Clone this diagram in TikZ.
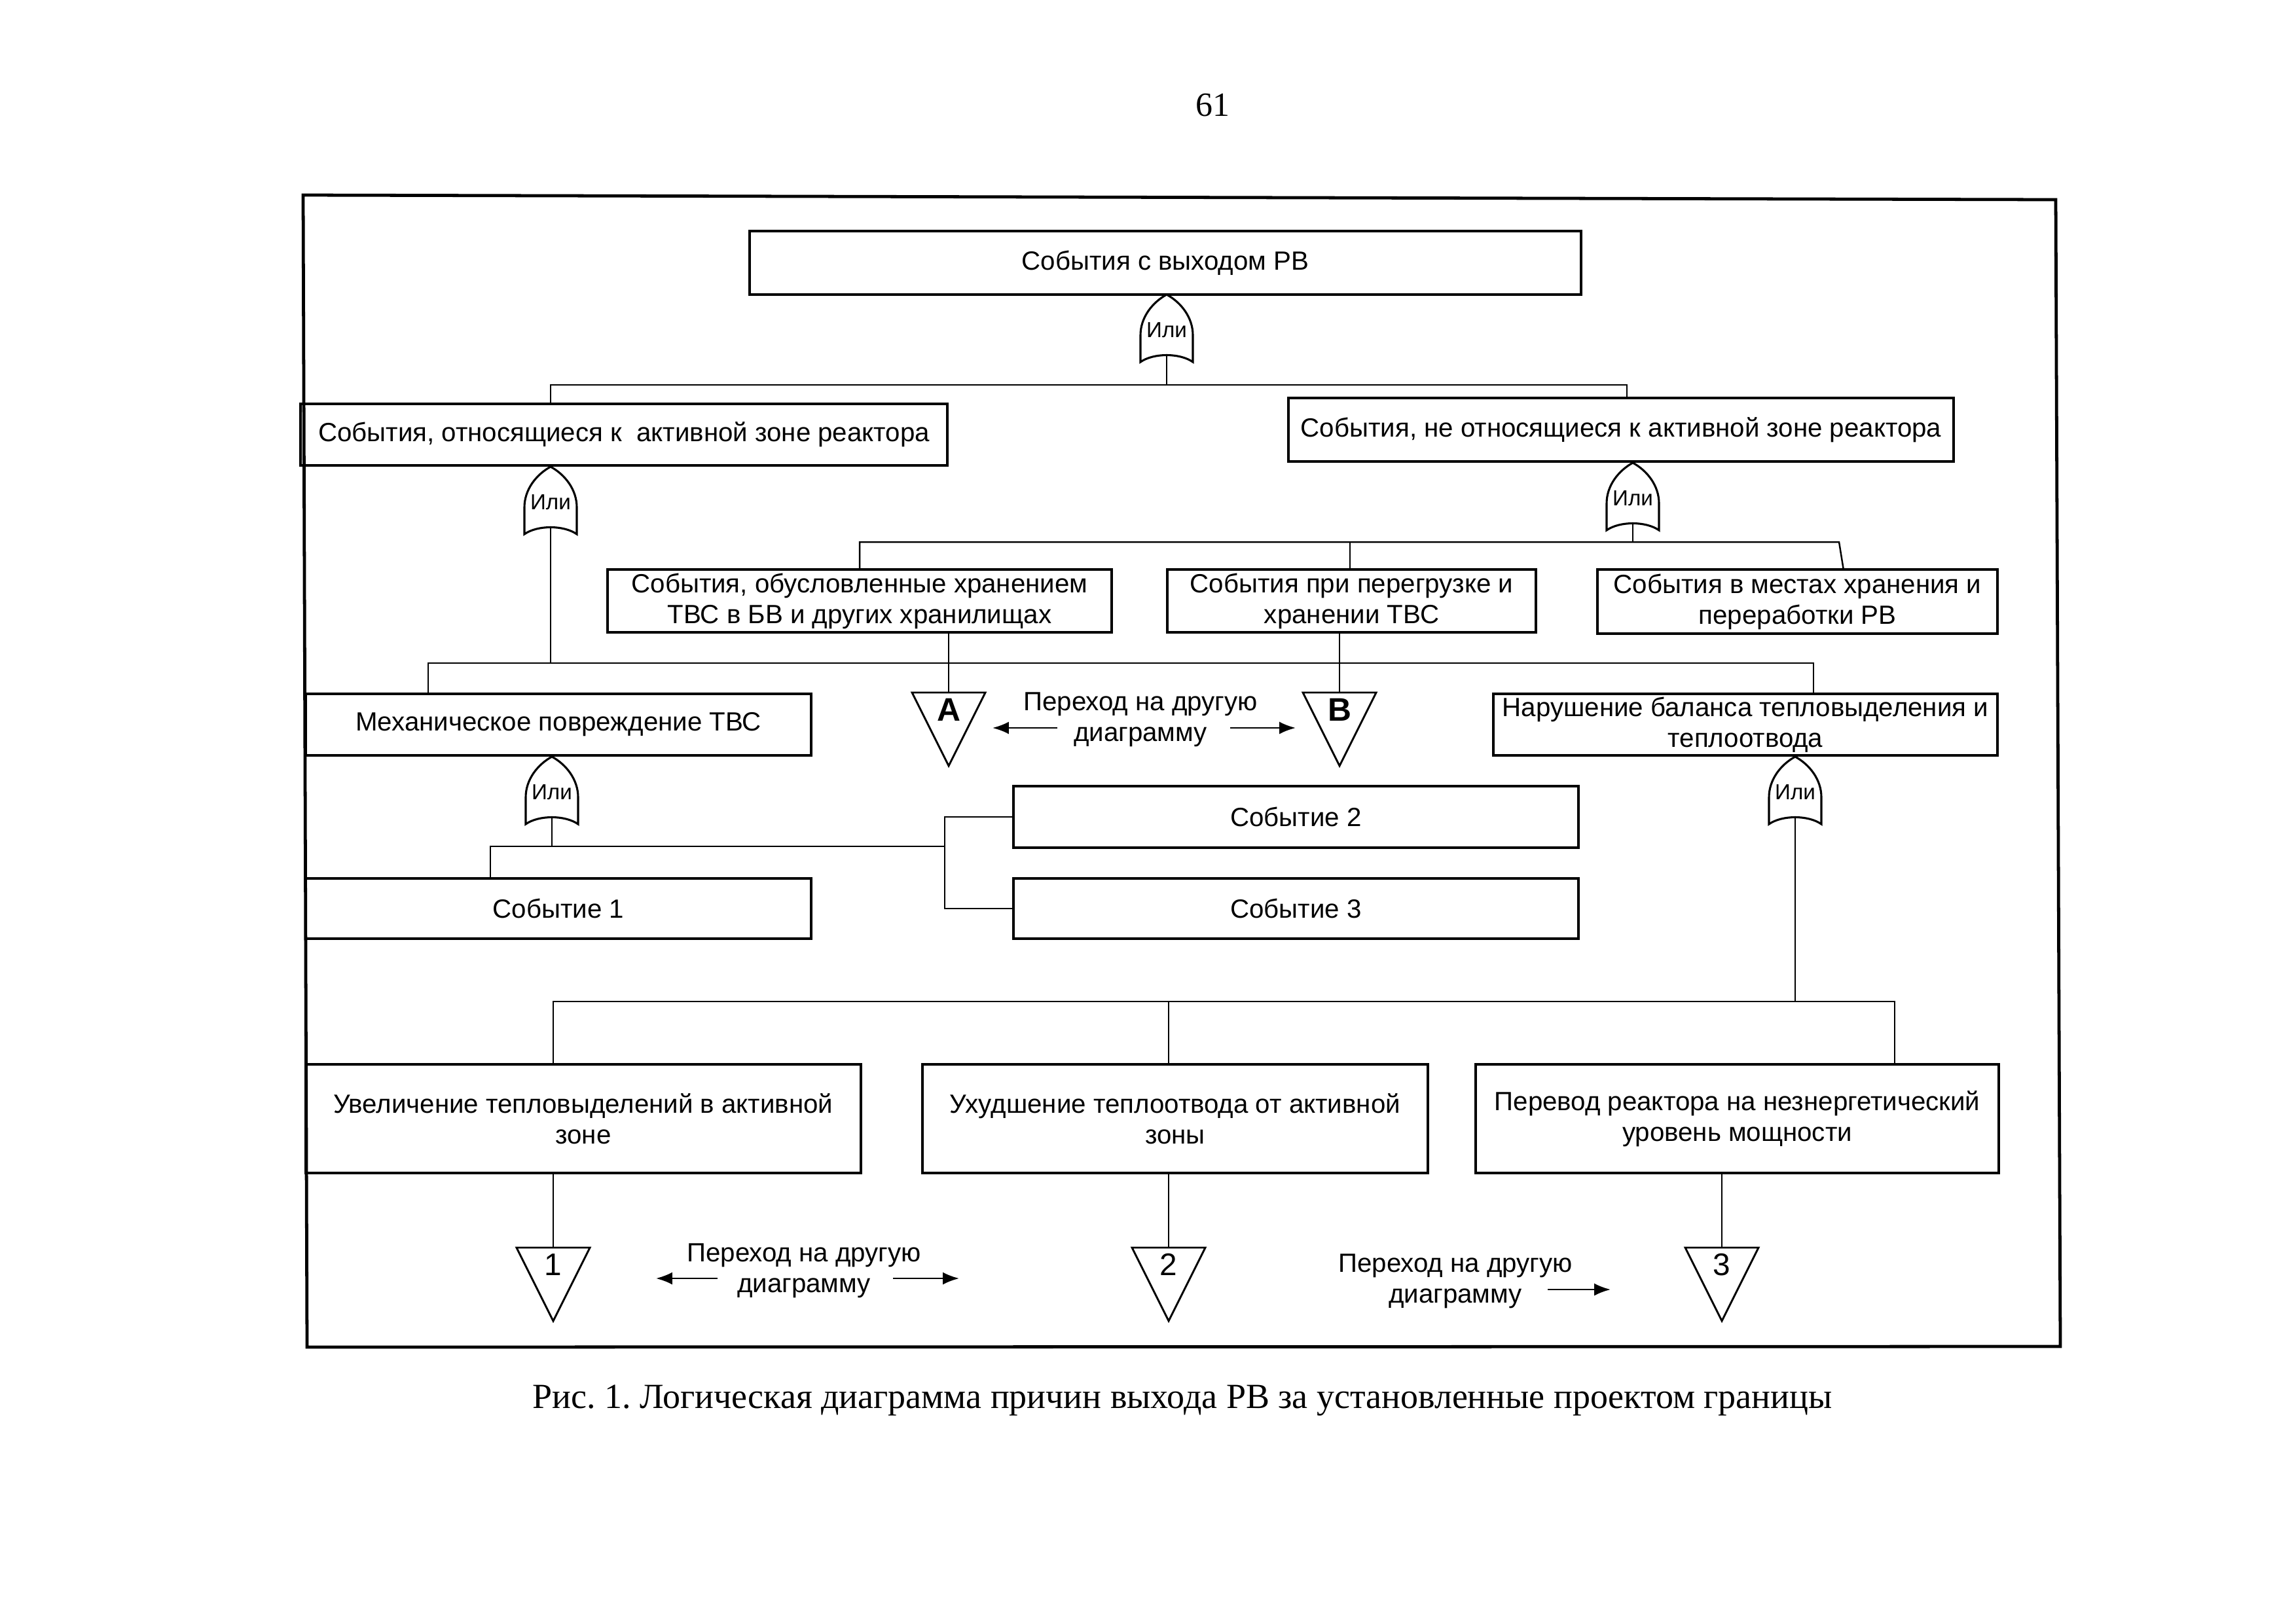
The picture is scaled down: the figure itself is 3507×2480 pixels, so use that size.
\documentclass[tikz,border=0pt]{standalone}
\usepackage{fontspec}
\setmainfont{Liberation Sans}
\newfontfamily\serifrm{Liberation Serif}
\usetikzlibrary{calc,arrows.meta}
\frenchspacing
\def\pxu{0.084687mm}
\tikzset{
  box/.style={draw, line width=0.9pt, align=center, inner sep=0pt,
    font=\fontsize{9.7}{11.3}\selectfont},
  conn/.style={line width=0.6pt},
  gl/.style={line width=0.75pt},
  tl/.style={line width=0.7pt},
  frame/.style={line width=1.15pt},
  gatetxt/.style={inner sep=0pt, font=\fontsize{8}{9}\selectfont},
  lbl/.style={align=center, inner sep=0pt, font=\fontsize{9.7}{11.3}\selectfont},
  arr/.style={line width=0.6pt, -{Latex[length=2.1mm,width=1.6mm]}},
}
\newcommand\bx[6]{\node[box, minimum width={(#4-#2)*\pxu}, minimum height={(#5-#3)*\pxu}] (#1) at ({(#2+#4)/2},{(#3+#5)/2}) {#6};}
\newcommand\orgate[3]{%
  \begin{scope}[shift={(#2,#3)}]
    \draw[gl] (0,0) .. controls (-22,12) and (-40,35) .. (-40,62) -- (-40,103)
      .. controls (-20,89) and (20,89) .. (40,103) -- (40,62)
      .. controls (40,35) and (22,12) .. (0,0) -- cycle;
    \node[gatetxt] (#1) at (0,54) {Или};
    \coordinate (#1-out) at (0,93);
  \end{scope}}
\newcommand\trimark[5]{%
  \begin{scope}[shift={(#2,#3)}]
    \draw[tl] (-56,0) -- (56,0) -- (0,112) -- cycle;
    \coordinate (#1-top) at (0,0);
    \node[inner sep=0pt, font=#5] (#1) at (0,26) {#4};
  \end{scope}}
\begin{document}
\begin{tikzpicture}[x=0.084687mm, y=-0.084687mm]
\useasboundingbox (0,0) rectangle (3507,2480);
\node[inner sep=0pt, font=\serifrm\fontsize{12.5}{14}\selectfont] (pnum) at (1852,161) {61};
\draw[frame] (463,298) -- (3140,305) -- (3147,2057) -- (469,2058) -- cycle;

% boxes
\bx{top}{1145}{353}{2415}{450}{События с выходом РВ}
\bx{L1}{459}{617}{1447}{711}{События, относящиеся к\ \ активной зоне реактора}
\bx{R1}{1968}{608}{2984}{705}{События, не относящиеся к активной зоне реактора}
\bx{S1}{928}{870}{1698}{966}{События, обусловленные хранением\\ТВС в БВ и других хранилищах}
\bx{S2}{1783}{870}{2346}{966}{События при перегрузке и\\хранении ТВС}
\bx{S3}{2440}{870}{3051}{968}{События в местах хранения и\\переработки РВ}
\bx{M}{467}{1060}{1239}{1154}{Механическое повреждение ТВС}
\bx{N}{2281}{1060}{3051}{1154}{Нарушение баланса тепловыделения и\\теплоотвода}
\bx{E2}{1548}{1201}{2411}{1295}{Событие 2}
\bx{E1}{467}{1342}{1239}{1434}{Событие 1}
\bx{E3}{1548}{1342}{2411}{1434}{Событие 3}
\bx{U1}{467}{1626}{1315}{1792}{Увеличение тепловыделений в активной\\зоне}
\bx{U2}{1409}{1626}{2181}{1792}{Ухудшение теплоотвода от активной\\зоны}
\bx{U3}{2254}{1626}{3053}{1792}{Перевод реактора на незнергетический\\уровень мощности}

% gates
\orgate{g0}{1782}{450}
\orgate{g1}{841}{713}
\orgate{g2}{2494}{707}
\orgate{g3}{843}{1156}
\orgate{g4}{2742}{1156}

% transfer triangles
\trimark{A}{1449}{1058}{A}{\bfseries\fontsize{12}{14}\selectfont}
\trimark{B}{2046}{1058}{B}{\bfseries\fontsize{12}{14}\selectfont}
\trimark{t1}{845}{1906}{1}{\fontsize{11.5}{13}\selectfont}
\trimark{t2}{1785}{1906}{2}{\fontsize{11.5}{13}\selectfont}
\trimark{t3}{2630}{1906}{3}{\fontsize{11.5}{13}\selectfont}

% level 1
\coordinate (b0l) at (841,588);
\coordinate (b0r) at (2485,588);
\draw[conn] (g0-out) -- (g0-out |- b0l);
\draw[conn] (L1.north -| b0l) -- (b0l) -- (b0r) -- (R1.north -| b0r);

% right branch
\coordinate (b1l) at (1313,828);
\coordinate (b1m) at (2062,828);
\coordinate (b1r) at (2809,828);
\draw[conn] (g2-out) -- (g2-out |- b1l);
\draw[conn] (S1.north -| b1l) -- (b1l) -- (b1r) -- ($(S3.north)+(70,0)$);
\draw[conn] (b1m) -- (S2.north -| b1m);
\draw[conn] (S1.south -| A-top) -- (A-top);
\draw[conn] (S2.south -| B-top) -- (B-top);

% left branch
\coordinate (b2l) at (654,1013);
\coordinate (b2r) at (2770,1013);
\draw[conn] (g1-out) -- (g1-out |- b2l);
\draw[conn] (M.north -| b2l) -- (b2l) -- (b2r) -- (N.north -| b2r);

% under M
\coordinate (b3l) at (749,1293);
\coordinate (b3r) at (1443,1293);
\draw[conn] (g3-out) -- (g3-out |- b3l);
\draw[conn] (E1.north -| b3l) -- (b3l) -- (b3r);
\draw[conn] (E2.west) -| (b3r) |- (E3.west);

% under N
\coordinate (b4l) at (845,1530);
\coordinate (b4m) at (1785,1530);
\coordinate (b4r) at (2894,1530);
\draw[conn] (g4-out) -- (g4-out |- b4l);
\draw[conn] (U1.north -| b4l) -- (b4l) -- (b4r) -- (U3.north -| b4r);
\draw[conn] (b4m) -- (U2.north -| b4m);
\draw[conn] (U1.south -| t1-top) -- (t1-top);
\draw[conn] (U2.south -| t2-top) -- (t2-top);
\draw[conn] (U3.south -| t3-top) -- (t3-top);

% transfer labels
\node[lbl] (lab1) at (1742,1099) {Переход на другую\\диаграмму};
\coordinate (a1s) at (1615,1112); \coordinate (a1e) at (1516,1112);
\coordinate (a2s) at (1879,1112); \coordinate (a2e) at (1979,1112);
\draw[arr] (a1s) -- (a1e);
\draw[arr] (a2s) -- (a2e);

\node[lbl] (lab2) at (1228,1941) {Переход на другую\\диаграмму};
\coordinate (a3s) at (1096,1953); \coordinate (a3e) at (1002,1953);
\coordinate (a4s) at (1364,1953); \coordinate (a4e) at (1465,1953);
\draw[arr] (a3s) -- (a3e);
\draw[arr] (a4s) -- (a4e);

\node[lbl] (lab3) at (2223,1957) {Переход на другую\\диаграмму};
\coordinate (a5s) at (2364,1970); \coordinate (a5e) at (2460,1970);
\draw[arr] (a5s) -- (a5e);

\node[inner sep=0pt, font=\serifrm\fontsize{13}{15}\selectfont] (cap) at (1806,2139) {Рис. 1. Логическая диаграмма причин выхода РВ за установленные проектом границы};
\end{tikzpicture}
\end{document}
